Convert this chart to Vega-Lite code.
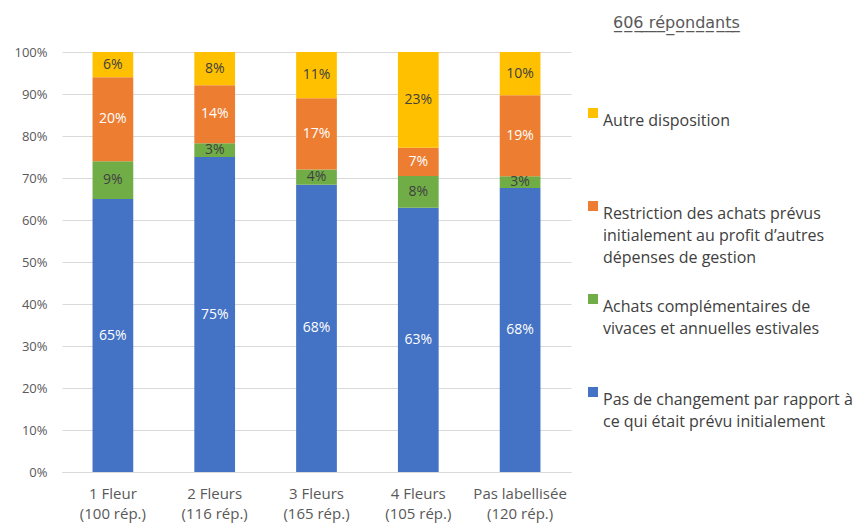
{
  "$schema": "https://vega.github.io/schema/vega-lite/v6.json",
  "width": 509,
  "height": 420,
  "autosize": "none",
  "padding": {"left": 62, "top": 52, "right": 292, "bottom": 51},
  "background": "white",
  "config": {
    "font": "Open Sans",
    "view": {"stroke": null}
  },
  "title": {
    "text": "6̲0̲6̲ ̲r̲é̲p̲o̲n̲d̲a̲n̲t̲s̲",
    "anchor": "start",
    "frame": "group",
    "dx": 551,
    "offset": 15,
    "fontSize": 16,
    "fontWeight": "normal",
    "color": "#595959",
    "font": "DejaVu Sans"
  },
  "data": {
    "values": [
      {"cat": "1 Fleur (100 rép.)", "serie": "Pas de changement par rapport à ce qui était prévu initialement", "order": 1, "value": 0.65},
      {"cat": "1 Fleur (100 rép.)", "serie": "Achats complémentaires de vivaces et annuelles estivales", "order": 2, "value": 0.09},
      {"cat": "1 Fleur (100 rép.)", "serie": "Restriction des achats prévus initialement au profit d’autres dépenses de gestion", "order": 3, "value": 0.20},
      {"cat": "1 Fleur (100 rép.)", "serie": "Autre disposition", "order": 4, "value": 0.06},
      {"cat": "2 Fleurs (116 rép.)", "serie": "Pas de changement par rapport à ce qui était prévu initialement", "order": 1, "value": 0.75},
      {"cat": "2 Fleurs (116 rép.)", "serie": "Achats complémentaires de vivaces et annuelles estivales", "order": 2, "value": 0.033},
      {"cat": "2 Fleurs (116 rép.)", "serie": "Restriction des achats prévus initialement au profit d’autres dépenses de gestion", "order": 3, "value": 0.138},
      {"cat": "2 Fleurs (116 rép.)", "serie": "Autre disposition", "order": 4, "value": 0.079},
      {"cat": "3 Fleurs (165 rép.)", "serie": "Pas de changement par rapport à ce qui était prévu initialement", "order": 1, "value": 0.684},
      {"cat": "3 Fleurs (165 rép.)", "serie": "Achats complémentaires de vivaces et annuelles estivales", "order": 2, "value": 0.036},
      {"cat": "3 Fleurs (165 rép.)", "serie": "Restriction des achats prévus initialement au profit d’autres dépenses de gestion", "order": 3, "value": 0.17},
      {"cat": "3 Fleurs (165 rép.)", "serie": "Autre disposition", "order": 4, "value": 0.11},
      {"cat": "4 Fleurs (105 rép.)", "serie": "Pas de changement par rapport à ce qui était prévu initialement", "order": 1, "value": 0.629},
      {"cat": "4 Fleurs (105 rép.)", "serie": "Achats complémentaires de vivaces et annuelles estivales", "order": 2, "value": 0.076},
      {"cat": "4 Fleurs (105 rép.)", "serie": "Restriction des achats prévus initialement au profit d’autres dépenses de gestion", "order": 3, "value": 0.067},
      {"cat": "4 Fleurs (105 rép.)", "serie": "Autre disposition", "order": 4, "value": 0.228},
      {"cat": "Pas labellisée (120 rép.)", "serie": "Pas de changement par rapport à ce qui était prévu initialement", "order": 1, "value": 0.676},
      {"cat": "Pas labellisée (120 rép.)", "serie": "Achats complémentaires de vivaces et annuelles estivales", "order": 2, "value": 0.028},
      {"cat": "Pas labellisée (120 rép.)", "serie": "Restriction des achats prévus initialement au profit d’autres dépenses de gestion", "order": 3, "value": 0.193},
      {"cat": "Pas labellisée (120 rép.)", "serie": "Autre disposition", "order": 4, "value": 0.103}
    ]
  },
  "encoding": {
    "x": {
      "field": "cat",
      "type": "nominal",
      "sort": null,
      "scale": {"paddingInner": 0.6, "paddingOuter": 0.3},
      "axis": {
        "title": null,
        "labelAngle": 0,
        "labelExpr": "[split(datum.value, ' (')[0], '(' + split(datum.value, ' (')[1]]",
        "labelFontSize": 15,
        "labelLineHeight": 20,
        "labelColor": "#595959",
        "labelPadding": 14,
        "ticks": false,
        "domainColor": "#d9d9d9",
        "domainWidth": 1,
        "grid": false
      }
    }
  },
  "layer": [
    {
      "mark": {"type": "bar"},
      "encoding": {
        "y": {
          "field": "value",
          "type": "quantitative",
          "stack": "zero",
          "scale": {"domain": [0, 1], "nice": false},
          "axis": {
            "title": null,
            "format": ".0%",
            "values": [0, 0.1, 0.2, 0.3, 0.4, 0.5, 0.6, 0.7, 0.8, 0.9, 1],
            "labelFontSize": 13,
            "labelColor": "#595959",
            "labelPadding": 15,
            "ticks": false,
            "domain": false,
            "gridColor": "#d9d9d9",
            "gridWidth": 1
          }
        },
        "color": {
          "field": "serie",
          "type": "nominal",
          "scale": {
            "domain": [
              "Autre disposition",
              "Restriction des achats prévus initialement au profit d’autres dépenses de gestion",
              "Achats complémentaires de vivaces et annuelles estivales",
              "Pas de changement par rapport à ce qui était prévu initialement"
            ],
            "range": ["#FFC000", "#ED7D31", "#70AD47", "#4472C4"]
          },
          "legend": {
            "title": null,
            "orient": "none",
            "legendX": 523,
            "legendY": 53,
            "symbolType": "square",
            "symbolSize": 100,
            "symbolStrokeWidth": 0,
            "labelFontSize": 16,
            "labelColor": "#404040",
            "labelLimit": 400,
            "labelBaseline": "top",
            "labelOffset": 2,
            "rowPadding": 25,
            "encode": {"labels": {"update": {"lineHeight": {"value": 22}}}},
            "labelExpr": "datum.label == 'Autre disposition' ? ['Autre disposition', ' ', ' '] : datum.label == 'Achats complémentaires de vivaces et annuelles estivales' ? ['Achats complémentaires de', 'vivaces et annuelles estivales', ' '] : datum.label == 'Pas de changement par rapport à ce qui était prévu initialement' ? ['Pas de changement par rapport à', 'ce qui était prévu initialement', ' '] : ['Restriction des achats prévus', 'initialement au profit d’autres', 'dépenses de gestion']"
          }
        },
        "order": {"field": "order", "type": "quantitative"}
      }
    },
    {
      "mark": {"type": "text", "fontSize": 14},
      "encoding": {
        "y": {
          "field": "value",
          "type": "quantitative",
          "stack": "zero",
          "bandPosition": 0.5,
          "axis": {
            "orient": "right",
            "title": null,
            "labels": false,
            "ticks": false,
            "domain": false,
            "gridColor": "#efefef",
            "gridWidth": 1,
            "values": [0.02, 0.04, 0.06, 0.08, 0.12, 0.14, 0.16, 0.18, 0.22, 0.24, 0.26, 0.28, 0.32, 0.34, 0.36, 0.38, 0.42, 0.44, 0.46, 0.48, 0.52, 0.54, 0.56, 0.58, 0.62, 0.64, 0.66, 0.68, 0.72, 0.74, 0.76, 0.78, 0.82, 0.84, 0.86, 0.88, 0.92, 0.94, 0.96, 0.98]
          }
        },
        "text": {"field": "value", "type": "quantitative", "format": ".0%"},
        "order": {"field": "order", "type": "quantitative"},
        "color": {
          "condition": {"test": "datum.order == 2 || datum.order == 4", "value": "#404040"},
          "value": "#ffffff"
        }
      }
    }
  ],
  "resolve": {"axis": {"y": "independent"}}
}
